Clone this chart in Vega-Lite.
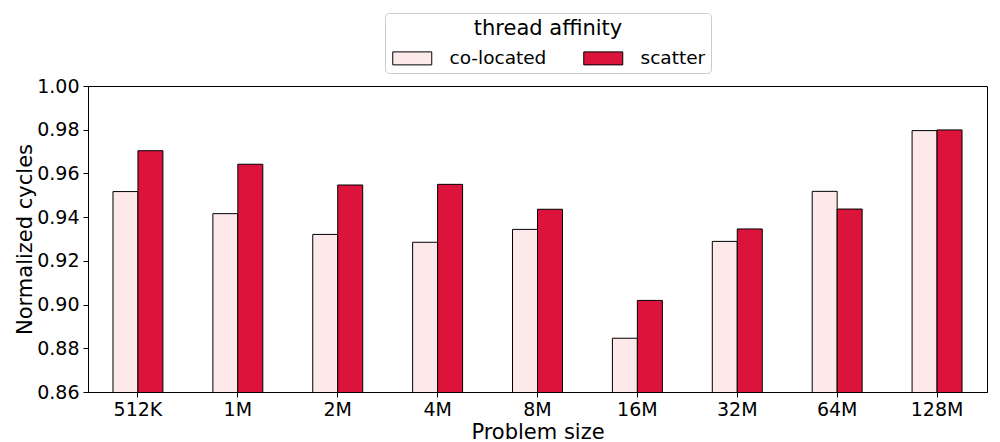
{
  "$schema": "https://vega.github.io/schema/vega-lite/v6.json",
  "width": 899,
  "height": 306,
  "autosize": {"type": "none"},
  "padding": {"left": 88, "top": 86, "right": 13, "bottom": 50},
  "background": "white",
  "config": {
    "font": "DejaVu Sans",
    "view": {"stroke": "black", "strokeWidth": 1},
    "axis": {"domainColor": "black", "tickColor": "black", "labelColor": "black", "titleColor": "black", "labelFont": "DejaVu Sans", "titleFont": "DejaVu Sans", "titleFontWeight": "normal", "grid": false, "tickSize": 5, "labelFontSize": 19, "titleFontSize": 21}
  },
  "data": {
    "values": [
      {"size": "512K", "affinity": "co-located", "value": 0.9517},
      {"size": "512K", "affinity": "scatter", "value": 0.9704},
      {"size": "1M", "affinity": "co-located", "value": 0.9416},
      {"size": "1M", "affinity": "scatter", "value": 0.9642},
      {"size": "2M", "affinity": "co-located", "value": 0.9321},
      {"size": "2M", "affinity": "scatter", "value": 0.9547},
      {"size": "4M", "affinity": "co-located", "value": 0.9285},
      {"size": "4M", "affinity": "scatter", "value": 0.9550},
      {"size": "8M", "affinity": "co-located", "value": 0.9344},
      {"size": "8M", "affinity": "scatter", "value": 0.9436},
      {"size": "16M", "affinity": "co-located", "value": 0.8846},
      {"size": "16M", "affinity": "scatter", "value": 0.9019},
      {"size": "32M", "affinity": "co-located", "value": 0.9289},
      {"size": "32M", "affinity": "scatter", "value": 0.9346},
      {"size": "64M", "affinity": "co-located", "value": 0.9518},
      {"size": "64M", "affinity": "scatter", "value": 0.9437},
      {"size": "128M", "affinity": "co-located", "value": 0.9796},
      {"size": "128M", "affinity": "scatter", "value": 0.9799}
    ]
  },
  "mark": {"type": "bar", "stroke": "black", "strokeWidth": 1, "clip": true},
  "encoding": {
    "x": {
      "field": "size", "type": "nominal",
      "sort": ["512K", "1M", "2M", "4M", "8M", "16M", "32M", "64M", "128M"],
      "scale": {"paddingInner": 0.5, "paddingOuter": 0.25},
      "axis": {"title": "Problem size", "labelAngle": 0, "titlePadding": 2, "labelPadding": 3}
    },
    "xOffset": {"field": "affinity", "type": "nominal", "sort": ["co-located", "scatter"], "scale": {"paddingInner": 0, "paddingOuter": 0}},
    "y": {
      "field": "value", "type": "quantitative",
      "scale": {"domain": [0.86, 1.0], "zero": false, "nice": false},
      "axis": {"title": "Normalized cycles", "values": [0.86, 0.88, 0.9, 0.92, 0.94, 0.96, 0.98, 1.0], "format": ".2f", "titlePadding": 1, "labelPadding": 4}
    },
    "fill": {
      "field": "affinity", "type": "nominal",
      "scale": {"domain": ["co-located", "scatter"], "range": ["#fde8ea", "#dc143c"]},
      "legend": {
        "title": "thread affinity",
        "orient": "none",
        "legendX": 297,
        "legendY": -73,
        "direction": "horizontal",
        "titleAnchor": "middle",
        "titleFontSize": 21,
        "titleFontWeight": "normal",
        "titleColor": "black",
        "titlePadding": 10,
        "labelFontSize": 18.5,
        "labelColor": "black",
        "labelOffset": 41,
        "symbolType": "M-1,-1H5V1H-1Z",
        "symbolSize": 169,
        "symbolStrokeColor": "black",
        "symbolStrokeWidth": 1,
        "columnPadding": 34,
        "strokeColor": "#cccccc",
        "cornerRadius": 4,
        "padding": 5
      }
    }
  }
}
